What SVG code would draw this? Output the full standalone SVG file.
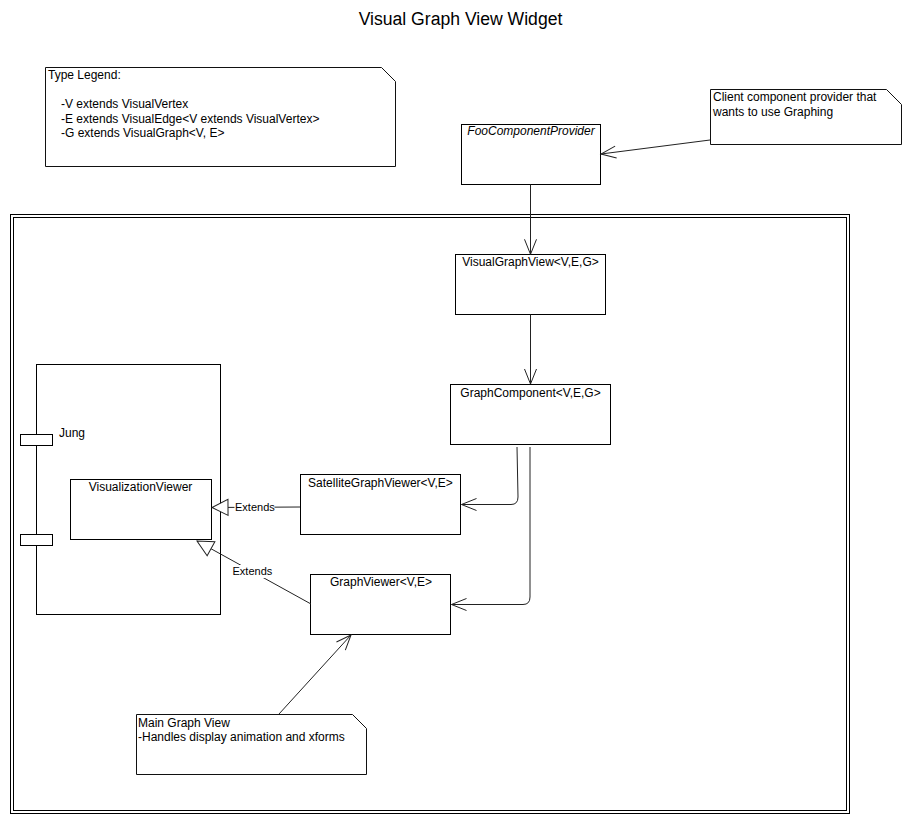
<svg xmlns="http://www.w3.org/2000/svg" width="911" height="825" viewBox="0 0 911 825">
<style>
text{font-family:"Liberation Sans",Arial,Helvetica,sans-serif;font-size:12px;fill:#000}
.title{font-size:17.6px}
.c{text-anchor:middle}
.it{font-style:italic}
.lbl{font-size:11px}
.box{fill:#fff;stroke:#000;stroke-width:1}
.note{fill:#fff;stroke:#111;stroke-width:1}
.frame{fill:none;stroke:#000;stroke-width:1}
.conn{fill:none;stroke:#222;stroke-width:1}
</style>
<defs>
<marker id="open" markerUnits="userSpaceOnUse" orient="auto" overflow="visible" refX="0" refY="0" markerWidth="1" markerHeight="1">
<path d="M-15,-6 L0,0 L-15,6" fill="none" stroke="#222" stroke-width="1"/>
</marker>
<marker id="tri" markerUnits="userSpaceOnUse" orient="auto" overflow="visible" refX="0" refY="0" markerWidth="1" markerHeight="1">
<path d="M-16,-8 L0,0 L-16,8 Z" fill="#fff" stroke="#222" stroke-width="1"/>
</marker>
</defs>
<rect width="911" height="825" fill="#fff"/>
<text class="title c" x="460.5" y="25">Visual Graph View Widget</text>

<g id="frame">
<rect class="frame" x="10.5" y="214.5" width="839" height="599"/>
<rect class="frame" x="13.5" y="217.5" width="833" height="593"/>
</g>

<g id="legend-note">
<path class="note" d="M45.5,67.5 L381.5,67.5 L395.5,81.5 L395.5,166.5 L45.5,166.5 Z"/>
<text x="48" y="79">Type Legend:</text>
<text x="61" y="108">-V extends VisualVertex</text>
<text x="61" y="122.5">-E extends VisualEdge&lt;V extends VisualVertex&gt;</text>
<text x="61" y="137">-G extends VisualGraph&lt;V, E&gt;</text>
</g>

<g id="client-note">
<path class="note" d="M710.5,89.5 L886.5,89.5 L901.5,104.5 L901.5,144.5 L710.5,144.5 Z"/>
<text x="713" y="101">Client component provider that</text>
<text x="713" y="115.5">wants to use Graphing</text>
</g>

<g id="foo-component-provider">
<rect class="box" x="461.5" y="124.5" width="139" height="60"/>
<text class="c it" x="531" y="135">FooComponentProvider</text>
</g>

<g id="visual-graph-view">
<rect class="box" x="455.5" y="254.5" width="150" height="60"/>
<text class="c" x="530.5" y="265.5">VisualGraphView&lt;V,E,G&gt;</text>
</g>

<g id="graph-component">
<rect class="box" x="450.5" y="384.5" width="160" height="60"/>
<text class="c" x="530.5" y="396.5">GraphComponent&lt;V,E,G&gt;</text>
</g>

<g id="satellite-graph-viewer">
<rect class="box" x="300.5" y="474.5" width="160" height="60"/>
<text class="c" x="380.5" y="486.5">SatelliteGraphViewer&lt;V,E&gt;</text>
</g>

<g id="graph-viewer">
<rect class="box" x="310.5" y="574.5" width="140" height="60"/>
<text class="c" x="381" y="585.5">GraphViewer&lt;V,E&gt;</text>
</g>

<g id="jung">
<rect class="box" x="36.5" y="364.5" width="184" height="250"/>
<rect class="box" x="20.5" y="434.5" width="32" height="11"/>
<rect class="box" x="20.5" y="534.5" width="32" height="11"/>
<text x="59" y="437">Jung</text>
</g>

<g id="visualization-viewer">
<rect class="box" x="70.5" y="479.5" width="141" height="60"/>
<text class="c" x="140.5" y="490.5">VisualizationViewer</text>
</g>

<g id="main-graph-view-note">
<path class="note" d="M136.5,714.5 L352.5,714.5 L366.5,728.5 L366.5,774.5 L136.5,774.5 Z"/>
<text x="138" y="726.5">Main Graph View</text>
<text x="138" y="740.5">-Handles display animation and xforms</text>
</g>

<g id="connectors">
<path class="conn" d="M710,140 L601,154" marker-end="url(#open)"/>
<path class="conn" d="M530.5,184.5 L530.5,254.3" marker-end="url(#open)"/>
<path class="conn" d="M530.5,314.5 L530.5,384" marker-end="url(#open)"/>
<path class="conn" d="M517,447 L518,497 Q518,504.5 511,504.5 L461.5,504.5" marker-end="url(#open)"/>
<path class="conn" d="M530,447 L530,597 Q530,604.5 523,604.5 L451.5,604.5" marker-end="url(#open)"/>
<path class="conn" d="M279,714 L351,635" marker-end="url(#open)"/>
<path class="conn" d="M300,507 L212,507.5" marker-end="url(#tri)"/>
<rect x="234.5" y="500" width="40" height="13" fill="#fff"/>
<text class="lbl" x="235" y="510.5">Extends</text>
<path class="conn" d="M311,604 L197,541" marker-end="url(#tri)"/>
<rect x="232" y="565" width="39" height="13" fill="#fff"/>
<text class="lbl" x="232.5" y="575">Extends</text>
</g>
</svg>
